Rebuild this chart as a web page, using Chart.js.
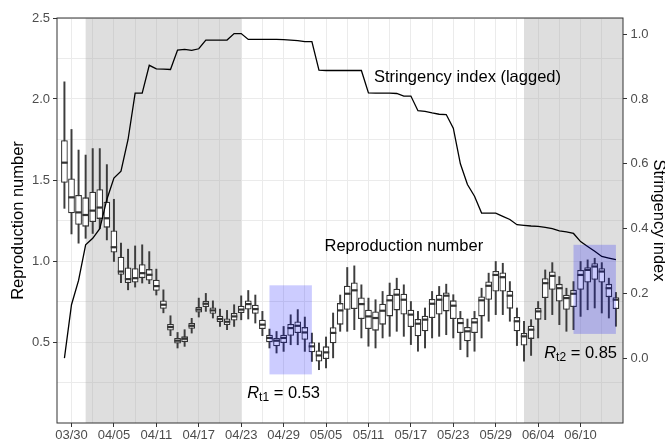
<!DOCTYPE html>
<html>
<head>
<meta charset="utf-8">
<script src="https://cdn.jsdelivr.net/npm/chart.js@4.4.0/dist/chart.umd.min.js"></script>
<style>
  html, body { margin: 0; padding: 0; background: #fff; }
  #wrap { width: 665px; height: 441px; }
</style>
</head>
<body>
<div id="wrap"><canvas id="chart" width="665" height="441"></canvas></div>
<script>
// days are counted from 03/30 (day 0); the first box is on 03/29
const firstDay = -1;

// daily distribution of the reproduction number
const whiskerLow = [1.325, 1.167, 1.11, 1.14, 1.17, 1.20, 1.13, 0.997, 0.867, 0.822,
  0.839, 0.864, 0.86, 0.79, 0.68, 0.539, 0.463, 0.473, 0.555, 0.654,
  0.689, 0.648, 0.596, 0.576, 0.596, 0.637, 0.642, 0.617, 0.539, 0.463,
  0.432, 0.442, 0.483, 0.483, 0.442, 0.38, 0.329, 0.34, 0.402, 0.566,
  0.566, 0.576, 0.525, 0.474, 0.463, 0.525, 0.535, 0.566, 0.535, 0.484,
  0.443, 0.463, 0.525, 0.535, 0.545, 0.525, 0.453, 0.408, 0.443, 0.525,
  0.628, 0.669, 0.669, 0.628, 0.478, 0.382, 0.417, 0.525, 0.638, 0.669,
  0.607, 0.566, 0.576, 0.658, 0.699, 0.71, 0.679, 0.648, 0.597];
const q1 = [1.483, 1.295, 1.223, 1.212, 1.24, 1.26, 1.206, 1.052, 0.915, 0.864,
  0.867, 0.894, 0.88, 0.816, 0.705, 0.571, 0.49, 0.50, 0.582, 0.682,
  0.716, 0.674, 0.623, 0.605, 0.633, 0.679, 0.70, 0.674, 0.58, 0.498,
  0.473, 0.494, 0.539, 0.555, 0.514, 0.436, 0.38, 0.395, 0.492, 0.607,
  0.699, 0.704, 0.642, 0.58, 0.57, 0.607, 0.658, 0.695, 0.669, 0.593,
  0.535, 0.566, 0.648, 0.669, 0.689, 0.642, 0.556, 0.505, 0.556, 0.658,
  0.761, 0.812, 0.812, 0.706, 0.566, 0.478, 0.519, 0.638, 0.771, 0.822,
  0.75, 0.699, 0.716, 0.822, 0.867, 0.884, 0.867, 0.777, 0.703];
const median = [1.607, 1.393, 1.30, 1.284, 1.311, 1.33, 1.264, 1.085, 0.935, 0.888,
  0.894, 0.925, 0.915, 0.845, 0.73, 0.592, 0.508, 0.52, 0.60, 0.70,
  0.736, 0.695, 0.642, 0.625, 0.658, 0.70, 0.734, 0.703, 0.607, 0.525,
  0.508, 0.525, 0.586, 0.60, 0.559, 0.473, 0.417, 0.436, 0.556, 0.695,
  0.798, 0.819, 0.734, 0.658, 0.648, 0.693, 0.757, 0.792, 0.761, 0.669,
  0.613, 0.638, 0.736, 0.761, 0.786, 0.724, 0.617, 0.566, 0.621, 0.757,
  0.847, 0.914, 0.90, 0.786, 0.628, 0.535, 0.576, 0.689, 0.863, 0.908,
  0.832, 0.771, 0.798, 0.914, 0.945, 0.966, 0.935, 0.832, 0.761];
const q3 = [1.746, 1.51, 1.408, 1.393, 1.428, 1.443, 1.366, 1.188, 1.027, 0.96,
  0.956, 0.98, 0.95, 0.884, 0.756, 0.611, 0.525, 0.535, 0.617, 0.716,
  0.754, 0.713, 0.662, 0.645, 0.679, 0.724, 0.756, 0.73, 0.637, 0.545,
  0.525, 0.545, 0.611, 0.627, 0.592, 0.498, 0.448, 0.473, 0.591, 0.74,
  0.847, 0.868, 0.775, 0.699, 0.689, 0.736, 0.792, 0.829, 0.798, 0.699,
  0.642, 0.662, 0.765, 0.792, 0.806, 0.757, 0.648, 0.593, 0.648, 0.781,
  0.873, 0.939, 0.929, 0.816, 0.654, 0.556, 0.601, 0.71, 0.894, 0.935,
  0.859, 0.792, 0.822, 0.945, 0.962, 0.986, 0.955, 0.859, 0.777];
const whiskerHigh = [2.106, 1.812, 1.685, 1.654, 1.694, 1.694, 1.595, 1.381, 1.11, 1.073,
  1.093, 1.10, 1.058, 0.95, 0.822, 0.662, 0.559, 0.576, 0.646, 0.771,
  0.80, 0.754, 0.703, 0.695, 0.73, 0.785, 0.818, 0.79, 0.689, 0.58,
  0.565, 0.596, 0.668, 0.70, 0.654, 0.555, 0.494, 0.531, 0.679, 0.79,
  0.96, 0.97, 0.853, 0.771, 0.761, 0.812, 0.864, 0.894, 0.853, 0.75,
  0.689, 0.71, 0.812, 0.843, 0.857, 0.792, 0.689, 0.642, 0.689, 0.832,
  0.925, 0.997, 0.986, 0.873, 0.71, 0.628, 0.638, 0.75, 0.945, 0.99,
  0.904, 0.832, 0.873, 0.997, 1.007, 1.017, 0.99, 0.894, 0.806];

// stringency index (lagged), right axis
const stringency = [0.0, 0.165, 0.24, 0.35, 0.37, 0.40, 0.49, 0.556, 0.577, 0.675,
  0.818, 0.818, 0.904, 0.893, 0.892, 0.891, 0.951, 0.953, 0.95, 0.955,
  0.982, 0.982, 0.982, 0.982, 1.002, 1.002, 0.984, 0.984, 0.984, 0.984,
  0.984, 0.983, 0.982, 0.98, 0.977, 0.977, 0.889, 0.888, 0.888, 0.888,
  0.888, 0.888, 0.888, 0.819, 0.818, 0.818, 0.818, 0.817, 0.809, 0.809,
  0.764, 0.762, 0.757, 0.753, 0.752, 0.71, 0.60, 0.536, 0.50, 0.448,
  0.448, 0.448, 0.438, 0.428, 0.412, 0.41, 0.408, 0.407, 0.404, 0.40,
  0.393, 0.39, 0.385, 0.36, 0.345, 0.33, 0.314, 0.309, 0.304];

const xTickDays = [0, 6, 12, 18, 24, 30, 36, 42, 48, 54, 60, 66, 72];
const xTickLabels = ['03/30', '04/05', '04/11', '04/17', '04/23', '04/29', '05/05',
  '05/11', '05/17', '05/23', '05/29', '06/04', '06/10'];
const xMinorDays = [3, 9, 15, 21, 27, 33, 39, 45, 51, 57, 63, 69, 75];
const yTicks = [0.5, 1.0, 1.5, 2.0, 2.5];
const yMinor = [0.25, 0.75, 1.25, 1.75, 2.25];
const y2Ticks = [0, 0.2, 0.4, 0.6, 0.8, 1.0];

// shaded periods (day from, day to; null = to the end)
const greyPeriods = [[2, 24], [64, null]];
// windows used for the Rt estimates
const rtWindows = [[28, 34, 0.30, 0.85], [71, 77, 0.55, 1.10]];
const rtLabels = [['t1', '0.53', 30, 0.18], ['t2', '0.85', 72, 0.427]];

const FONT = "'Liberation Sans', Arial, sans-serif";
const dayOf = i => firstDay + i;

const extras = {
  id: 'extras',
  beforeDatasetsDraw(chart) {
    const {ctx, chartArea: a, scales: {x}} = chart;
    ctx.save();
    ctx.fillStyle = 'rgba(160,160,160,0.35)';
    greyPeriods.forEach(([s, e]) => {
      const x0 = Math.max(a.left, x.getPixelForValue(s));
      const x1 = e === null ? a.right : x.getPixelForValue(e);
      ctx.fillRect(x0, a.top, x1 - x0, a.bottom - a.top);
    });
    ctx.restore();
  },
  afterDatasetsDraw(chart) {
    const {ctx, chartArea: a, scales: {x, y}} = chart;
    ctx.save();
    ctx.fillStyle = 'rgba(0,0,255,0.2)';
    rtWindows.forEach(([s, e, lo, hi]) => {
      const x0 = x.getPixelForValue(s), x1 = x.getPixelForValue(e);
      const y0 = y.getPixelForValue(hi), y1 = y.getPixelForValue(lo);
      ctx.fillRect(x0, y0, x1 - x0, y1 - y0);
    });
    ctx.strokeStyle = '#333';
    ctx.lineWidth = 1;
    ctx.strokeRect(a.left, a.top, a.right - a.left, a.bottom - a.top);

    ctx.fillStyle = '#000';
    ctx.textBaseline = 'middle';
    ctx.textAlign = 'center';
    ctx.font = '16.5px ' + FONT;
    ctx.fillText('Stringency index (lagged)', x.getPixelForValue(56), y.getPixelForValue(2.135));
    ctx.fillText('Reproduction number', x.getPixelForValue(47), y.getPixelForValue(1.09));

    ctx.textAlign = 'left';
    rtLabels.forEach(([sub, val, d, v]) => {
      const rest = ' = ' + val;
      ctx.font = 'italic 16.5px ' + FONT;
      const wR = ctx.measureText('R').width;
      ctx.font = '12px ' + FONT;
      const wS = ctx.measureText(sub).width;
      ctx.font = '16.5px ' + FONT;
      const wT = ctx.measureText(rest).width;
      let px = x.getPixelForValue(d) - (wR + wS + wT) / 2;
      const py = y.getPixelForValue(v);
      ctx.font = 'italic 16.5px ' + FONT;
      ctx.fillText('R', px, py);
      px += wR;
      ctx.font = '12px ' + FONT;
      ctx.fillText(sub, px, py + 4);
      px += wS;
      ctx.font = '16.5px ' + FONT;
      ctx.fillText(rest, px, py);
    });
    ctx.restore();
  }
};

const ctx = document.getElementById('chart').getContext('2d');
new Chart(ctx, {
  type: 'bar',
  data: {
    datasets: [
      {
        type: 'line',
        label: 'Stringency index (lagged)',
        yAxisID: 'y2',
        data: stringency.map((v, i) => ({x: dayOf(i), y: v})),
        borderColor: '#000',
        borderWidth: 1.3,
        pointRadius: 0,
        tension: 0,
        order: 0
      },
      {
        type: 'line',
        label: 'median',
        data: median.map((v, i) => ({x: dayOf(i), y: v})),
        showLine: false,
        pointStyle: 'line',
        pointRadius: 3.2,
        pointBorderWidth: 2.2,
        borderColor: '#333',
        order: 1
      },
      {
        label: 'box',
        data: q1.map((v, i) => ({x: dayOf(i), y: [v, q3[i]]})),
        backgroundColor: '#fff',
        borderColor: '#333',
        borderWidth: 1.3,
        borderSkipped: false,
        grouped: false,
        categoryPercentage: 1,
        barPercentage: 0.95,
        order: 2
      },
      {
        label: 'whisker',
        data: whiskerLow.map((v, i) => ({x: dayOf(i), y: [v, whiskerHigh[i]]})),
        backgroundColor: '#3d3d3d',
        borderWidth: 0,
        grouped: false,
        barThickness: 1.3,
        order: 3
      }
    ]
  },
  options: {
    responsive: false,
    animation: false,
    events: [],
    layout: { padding: { top: 18, left: 0, right: 0, bottom: 0 } },
    plugins: { legend: { display: false }, tooltip: { enabled: false } },
    scales: {
      x: {
        type: 'linear',
        offset: false,
        min: -2.05,
        max: 78,
        afterBuildTicks: s => {
          s.ticks = xTickDays.concat(xMinorDays).sort((a, b) => a - b).map(v => ({value: v}));
        },
        afterFit: s => { s.height = 18; },
        ticks: {
          autoSkip: false,
          maxRotation: 0,
          padding: 1,
          color: '#4d4d4d',
          font: { family: FONT, size: 13 },
          callback: v => { const i = xTickDays.indexOf(v); return i >= 0 ? xTickLabels[i] : ''; }
        },
        grid: {
          offset: false,
          color: '#ebebeb',
          lineWidth: 1,
          tickLength: 4,
          tickColor: c => (c.tick && xTickDays.includes(c.tick.value)) ? '#333' : 'rgba(0,0,0,0)'
        },
        border: { display: false }
      },
      y: {
        type: 'linear',
        position: 'left',
        min: 0,
        max: 2.5,
        afterBuildTicks: s => {
          s.ticks = yTicks.concat(yMinor).sort((a, b) => a - b).map(v => ({value: v}));
        },
        afterFit: s => { s.width = 57; },
        ticks: {
          padding: 3,
          color: '#4d4d4d',
          font: { family: FONT, size: 13 },
          callback: v => yTicks.includes(v) ? v.toFixed(1) : ''
        },
        grid: {
          color: '#ebebeb',
          lineWidth: 1,
          tickLength: 4,
          tickColor: c => (c.tick && yTicks.includes(c.tick.value)) ? '#333' : 'rgba(0,0,0,0)'
        },
        border: { display: false },
        title: {
          display: true,
          text: 'Reproduction number',
          color: '#000',
          font: { family: FONT, size: 16.5 },
          padding: { top: 9, bottom: 0 }
        }
      },
      y2: {
        type: 'linear',
        position: 'right',
        min: -0.2,
        max: 1.05,
        afterBuildTicks: s => { s.ticks = y2Ticks.map(v => ({value: v})); },
        afterFit: s => { s.width = 42; },
        ticks: {
          padding: 3.5,
          color: '#4d4d4d',
          font: { family: FONT, size: 13 },
          callback: v => v.toFixed(1)
        },
        grid: {
          drawOnChartArea: false,
          tickLength: 4,
          tickColor: '#333',
          color: '#333'
        },
        border: { display: false },
        title: {
          display: true,
          text: 'Stringency index',
          color: '#000',
          font: { family: FONT, size: 16.5 },
          padding: { top: -3, bottom: 0 }
        }
      }
    }
  },
  plugins: [extras]
});
</script>
</body>
</html>
